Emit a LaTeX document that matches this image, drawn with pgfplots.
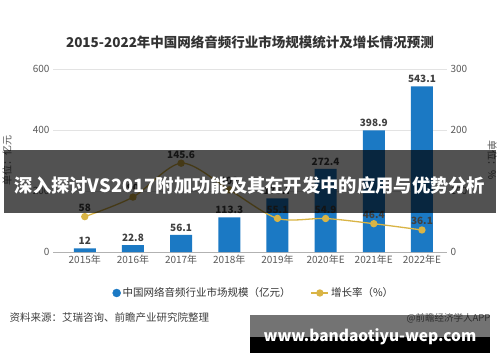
\documentclass[border=0pt]{standalone}
\usepackage{fontspec}
\setmainfont{Noto Sans CJK SC}
\usepackage{pgfplots}
\pgfplotsset{compat=1.18}
\definecolor{barblue}{HTML}{1B79C4}
\definecolor{linegold}{HTML}{D9B445}
\definecolor{ticktext}{HTML}{595959}
\definecolor{gridc}{HTML}{E3E3E3}
\begin{document}
\begin{tikzpicture}[x=1pt,y=1pt]
\useasboundingbox (0,0) rectangle (500,362);
\fill[white] (0,0) rectangle (500,362);
\node[font=\bfseries\fontsize{13.5}{14}\selectfont, text=black!80] at (250,320) {2015-2022年中国网络音频行业市场规模统计及增长情况预测};
\begin{axis}[
  at={(53pt,110pt)}, anchor=south west, scale only axis,
  width=394pt, height=183pt,
  xmin=-0.66, xmax=7.52, ymin=0, ymax=600,
  xtick={0,...,7},
  xticklabels={2015年,2016年,2017年,2018年,2019年,2020年E,2021年E,2022年E},
  ytick={0,200,400,600},
  ymajorgrids, grid style={gridc, line width=0.8pt},
  axis y line*=left, axis x line*=bottom,
  y axis line style={draw=none},
  x axis line style={draw=black!30, line width=0.8pt},
  major tick length=0pt,
  tick label style={font=\fontsize{10}{10}\selectfont, text=ticktext},
  /pgf/number format/assume math mode=true,
  ylabel={单位：亿元},
  ylabel style={at={(axis description cs:-0.096,0.5)}, font=\fontsize{10}{10}\selectfont, text=ticktext},
  point meta=explicit symbolic,
  nodes near coords,
  nodes near coords style={font=\bfseries\fontsize{10}{10}\selectfont, text=black!75},
]
\addplot[ybar, bar width=22pt, fill=barblue, draw=none] coordinates {
  (0,12) [12] (1,22.8) [22.8] (2,56.1) [56.1] (3,113.3) [113.3]
  (4,175.7) [175.7] (5,272.4) [272.4] (6,398.9) [398.9] (7,543.1) [543.1]};
\end{axis}
\begin{axis}[
  at={(53pt,110pt)}, anchor=south west, scale only axis,
  width=394pt, height=183pt,
  xmin=-0.66, xmax=7.52, ymin=0, ymax=300,
  ytick={0,100,200,300},
  axis y line*=right, axis x line=none,
  y axis line style={draw=none},
  major tick length=0pt,
  tick label style={font=\fontsize{10}{10}\selectfont, text=ticktext},
  /pgf/number format/assume math mode=true,
  ylabel={单位：\%},
  ylabel style={at={(axis description cs:1.094,0.5)}, rotate=180, font=\fontsize{10}{10}\selectfont, text=ticktext},
  point meta=explicit symbolic,
  nodes near coords,
  nodes near coords style={font=\bfseries\fontsize{10}{10}\selectfont, text=black!75, yshift=1pt},
  legend columns=2,
  legend style={at={(0.51,-0.224)}, anchor=center, draw=none, fill=none,
    font=\fontsize{10.5}{11}\selectfont, text=black!80,
    /tikz/every even column/.append style={column sep=18pt}},
]
\addlegendimage{only marks, mark=*, mark size=4pt, barblue}
\addlegendentry{中国网络音频行业市场规模（亿元）}
\addplot[smooth, linegold, line width=1.3pt, mark=*, mark size=3pt,
  mark options={fill=linegold, draw=linegold}] coordinates {
  (0,58) [58] (1,90) [90] (2,145.6) [145.6] (3,102) [102]
  (4,55.1) [55.1] (5,54.9) [54.9] (6,46.4) [46.4] (7,36.1) [36.1]};
\addlegendentry{增长率（\%）}
\end{axis}
\node[anchor=west, font=\fontsize{10.5}{11}\selectfont, text=black!75] at (6,44) {资料来源：艾瑞咨询、前瞻产业研究院整理};
\node[anchor=east, font=\fontsize{9.5}{10}\selectfont, text=black!60] at (494,44) {@前瞻经济学人APP};
% overlay banners
\fill[black, opacity=0.68] (4,149) rectangle (496,212);
\node[font=\bfseries\fontsize{18.3}{19}\selectfont, text=white] at (250,176) {深入探讨VS2017附加功能及其在开发中的应用与优势分析};
\fill[black, opacity=0.55] (250,25) rectangle (490,47);
\fill[black] (250,9) rectangle (490,25);
\node[font=\bfseries\fontsize{15.5}{16}\selectfont, text=white] at (370,25) {www.bandaotiyu-wep.com};
\end{tikzpicture}
\end{document}
